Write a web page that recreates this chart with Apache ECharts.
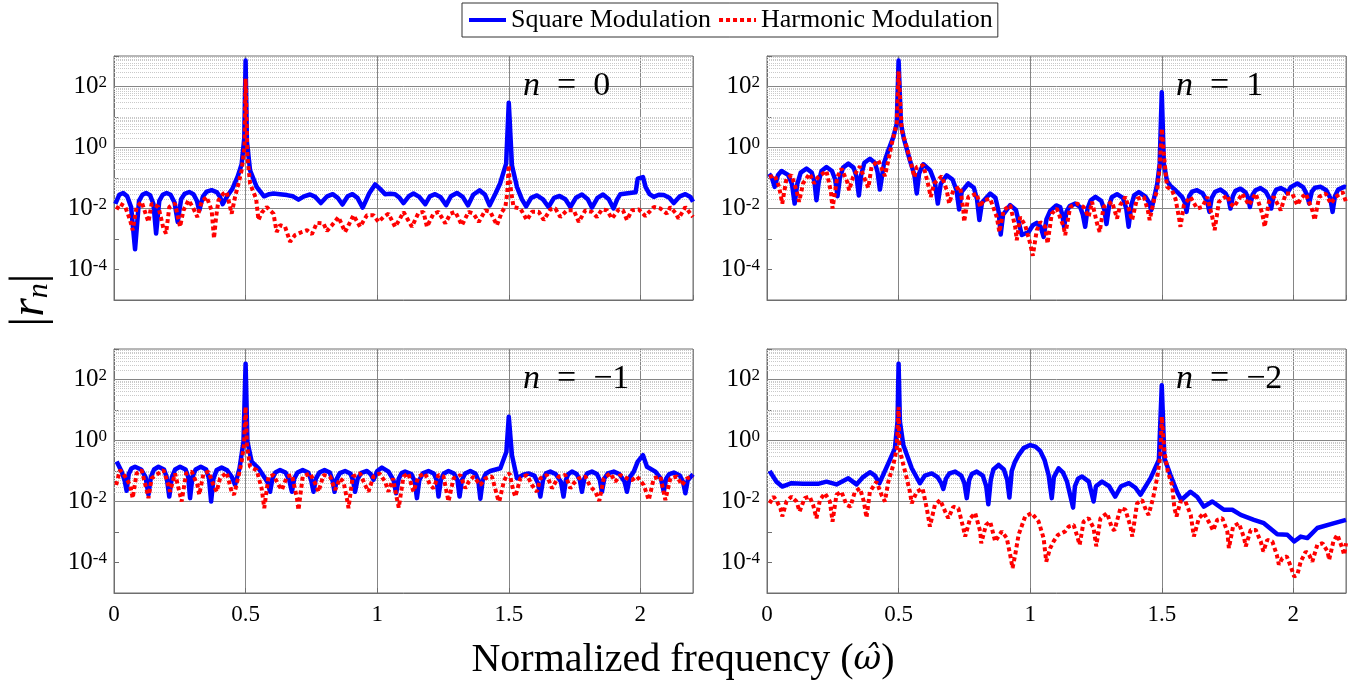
<!DOCTYPE html>
<html>
<head>
<meta charset="utf-8">
<script src="https://cdn.jsdelivr.net/npm/echarts@6.0.0/dist/echarts.min.js"></script>
<style>
  html, body { margin: 0; padding: 0; background: #fff; }
  #chart { width: 1365px; height: 685px; }
</style>
</head>
<body>
<div id="chart"></div>
<script>
// values: [normalized frequency, |r_n|]
const yTickExp = [-4, -2, 0, 2];
const yMajor = [1e-4, 1e-2, 1, 1e2];

// n = 0
const sq0 = [[0.005,0.0141],[0.02,0.0282],[0.035,0.0324],[0.05,0.0251],[0.065,0.0112],[0.08,0.00046],[0.095,0.0178],[0.108,0.0282],[0.122,0.0324],[0.137,0.0275],[0.15,0.0141],[0.16,0.00151],[0.172,0.0178],[0.185,0.0282],[0.2,0.0324],[0.215,0.0282],[0.23,0.0158],[0.242,0.00363],[0.255,0.02],[0.268,0.0302],[0.286,0.0347],[0.302,0.0295],[0.315,0.0178],[0.324,0.00871],[0.338,0.0251],[0.352,0.0355],[0.371,0.0398],[0.39,0.0347],[0.403,0.024],[0.413,0.0138],[0.43,0.0251],[0.45,0.0447],[0.47,0.112],[0.485,0.282],[0.495,2.0],[0.5,708],[0.505,1.58],[0.517,0.178],[0.542,0.0513],[0.57,0.0251],[0.59,0.0295],[0.606,0.0309],[0.63,0.0295],[0.657,0.0275],[0.68,0.0251],[0.701,0.0195],[0.722,0.0251],[0.745,0.0288],[0.765,0.024],[0.786,0.0151],[0.81,0.0251],[0.831,0.0295],[0.85,0.0224],[0.868,0.0135],[0.888,0.0251],[0.906,0.0295],[0.925,0.0224],[0.945,0.0107],[0.97,0.0316],[0.992,0.0617],[1.01,0.0447],[1.03,0.0295],[1.05,0.0302],[1.068,0.0295],[1.085,0.0224],[1.1,0.0151],[1.12,0.0251],[1.138,0.0309],[1.16,0.024],[1.183,0.0138],[1.2,0.0251],[1.22,0.0295],[1.24,0.024],[1.262,0.0129],[1.28,0.0251],[1.303,0.0324],[1.325,0.024],[1.345,0.0126],[1.365,0.0282],[1.389,0.0398],[1.41,0.0282],[1.427,0.0126],[1.45,0.0316],[1.467,0.0661],[1.49,0.295],[1.5,29.5],[1.512,0.263],[1.531,0.0513],[1.55,0.02],[1.566,0.0117],[1.585,0.0224],[1.607,0.0269],[1.63,0.02],[1.651,0.0112],[1.672,0.0224],[1.693,0.0257],[1.715,0.02],[1.734,0.0112],[1.755,0.0224],[1.778,0.0288],[1.8,0.02],[1.816,0.0107],[1.837,0.0224],[1.858,0.0288],[1.88,0.02],[1.898,0.01],[1.912,0.02],[1.924,0.0295],[1.96,0.0324],[1.982,0.0339],[1.99,0.0955],[2.01,0.107],[2.02,0.0501],[2.035,0.0295],[2.051,0.024],[2.07,0.0282],[2.089,0.0275],[2.11,0.0224],[2.127,0.0151],[2.15,0.0251],[2.171,0.0295],[2.19,0.024],[2.2,0.0166]];
const ha0 = [[0.01,0.00933],[0.023,0.0145],[0.042,0.0117],[0.061,0.00417],[0.071,0.00195],[0.086,0.0112],[0.105,0.0166],[0.122,0.00603],[0.131,0.00363],[0.143,0.0145],[0.169,0.0112],[0.188,0.00219],[0.198,0.00151],[0.21,0.0112],[0.232,0.0145],[0.251,0.00251],[0.264,0.00871],[0.283,0.0186],[0.299,0.0112],[0.317,0.00525],[0.333,0.0166],[0.352,0.024],[0.371,0.00871],[0.38,0.00105],[0.388,0.00525],[0.397,0.0186],[0.416,0.0309],[0.428,0.0347],[0.447,0.00676],[0.46,0.024],[0.473,0.0661],[0.485,0.178],[0.496,1.05],[0.5,178],[0.507,0.49],[0.517,0.0661],[0.527,0.0398],[0.54,0.0209],[0.549,0.00417],[0.561,0.00724],[0.58,0.0112],[0.606,0.00676],[0.618,0.0017],[0.631,0.00282],[0.65,0.00251],[0.669,0.000813],[0.688,0.00135],[0.714,0.0017],[0.733,0.00195],[0.752,0.00145],[0.771,0.00339],[0.796,0.00324],[0.809,0.00182],[0.828,0.00282],[0.853,0.00525],[0.878,0.0017],[0.891,0.00282],[0.91,0.00603],[0.935,0.00251],[0.961,0.00603],[0.986,0.00603],[1.005,0.00363],[1.024,0.00525],[1.043,0.00676],[1.068,0.00251],[1.087,0.00468],[1.1,0.00776],[1.132,0.00251],[1.157,0.00724],[1.176,0.00776],[1.189,0.00251],[1.214,0.00676],[1.233,0.00776],[1.259,0.00324],[1.278,0.00676],[1.297,0.00776],[1.322,0.00282],[1.347,0.00776],[1.366,0.00676],[1.386,0.00363],[1.411,0.00871],[1.43,0.00776],[1.455,0.00282],[1.474,0.00776],[1.487,0.0112],[1.494,0.0309],[1.5,0.263],[1.503,0.0832],[1.518,0.0112],[1.544,0.01],[1.569,0.00417],[1.588,0.00776],[1.614,0.00776],[1.633,0.00417],[1.658,0.00933],[1.677,0.01],[1.696,0.00525],[1.721,0.00871],[1.747,0.00871],[1.766,0.00363],[1.791,0.00871],[1.816,0.00776],[1.835,0.00525],[1.854,0.00933],[1.873,0.00871],[1.892,0.00468],[1.918,0.00933],[1.934,0.00871],[1.949,0.00417],[1.968,0.00871],[1.994,0.00933],[2.019,0.00562],[2.051,0.0112],[2.076,0.01],[2.101,0.00676],[2.114,0.0112],[2.133,0.00724],[2.145,0.00468],[2.171,0.0112],[2.2,0.00525]];

// n = 1
const sq1 = [[0.008,0.138],[0.018,0.105],[0.029,0.0513],[0.042,0.126],[0.055,0.17],[0.08,0.126],[0.095,0.0631],[0.105,0.0145],[0.115,0.0631],[0.128,0.151],[0.15,0.204],[0.17,0.151],[0.18,0.0794],[0.188,0.0186],[0.197,0.0794],[0.207,0.17],[0.226,0.229],[0.247,0.17],[0.259,0.0891],[0.268,0.0251],[0.277,0.1],[0.289,0.219],[0.309,0.295],[0.329,0.219],[0.34,0.112],[0.349,0.0269],[0.358,0.126],[0.37,0.316],[0.391,0.427],[0.41,0.316],[0.42,0.158],[0.429,0.0417],[0.445,0.316],[0.461,0.813],[0.48,2.19],[0.493,6.03],[0.5,708],[0.509,6.03],[0.52,1.95],[0.543,0.38],[0.56,0.126],[0.569,0.0309],[0.578,0.141],[0.594,0.282],[0.62,0.178],[0.638,0.0708],[0.649,0.0145],[0.66,0.0631],[0.683,0.123],[0.705,0.0891],[0.72,0.0398],[0.73,0.00933],[0.74,0.0355],[0.765,0.0661],[0.786,0.0479],[0.798,0.02],[0.807,0.00417],[0.817,0.0158],[0.848,0.0309],[0.868,0.0224],[0.88,0.00794],[0.888,0.00141],[0.897,0.00631],[0.924,0.0129],[0.946,0.00891],[0.968,0.00135],[0.994,0.0017],[1.01,0.00282],[1.025,0.00339],[1.04,0.00251],[1.051,0.00117],[1.062,0.00447],[1.076,0.00832],[1.099,0.0126],[1.114,0.0112],[1.122,0.00631],[1.129,0.00251],[1.138,0.00794],[1.15,0.012],[1.171,0.0145],[1.19,0.0112],[1.2,0.00631],[1.209,0.00251],[1.218,0.01],[1.23,0.0186],[1.248,0.024],[1.27,0.0178],[1.282,0.00891],[1.29,0.00309],[1.3,0.0126],[1.31,0.0234],[1.33,0.0295],[1.352,0.0224],[1.365,0.01],[1.374,0.00251],[1.384,0.0126],[1.395,0.0269],[1.413,0.0347],[1.437,0.0251],[1.452,0.0158],[1.46,0.00871],[1.475,0.0316],[1.483,0.0661],[1.492,0.295],[1.5,64.6],[1.508,0.295],[1.52,0.0794],[1.532,0.0562],[1.552,0.0398],[1.577,0.024],[1.588,0.0158],[1.594,0.00776],[1.604,0.0251],[1.615,0.0355],[1.634,0.0398],[1.655,0.0316],[1.672,0.0178],[1.681,0.00776],[1.69,0.0224],[1.703,0.0355],[1.723,0.0417],[1.742,0.0316],[1.754,0.02],[1.761,0.01],[1.77,0.0251],[1.78,0.038],[1.799,0.0447],[1.818,0.0339],[1.828,0.0224],[1.835,0.0112],[1.845,0.0282],[1.856,0.0398],[1.875,0.0468],[1.895,0.0355],[1.908,0.0224],[1.916,0.01],[1.925,0.0282],[1.935,0.0417],[1.952,0.0468],[1.968,0.0398],[1.977,0.0316],[1.99,0.0501],[2.015,0.0661],[2.037,0.0501],[2.052,0.0282],[2.06,0.0145],[2.07,0.0355],[2.082,0.0479],[2.104,0.0513],[2.125,0.0398],[2.14,0.0224],[2.149,0.00776],[2.158,0.0251],[2.17,0.0417],[2.193,0.0513],[2.2,0.0501]];
const ha1 = [[0.008,0.107],[0.029,0.123],[0.046,0.0513],[0.058,0.0145],[0.074,0.0955],[0.093,0.123],[0.112,0.0398],[0.122,0.0166],[0.137,0.0661],[0.162,0.138],[0.179,0.0661],[0.194,0.107],[0.226,0.17],[0.243,0.0347],[0.249,0.01],[0.267,0.107],[0.283,0.204],[0.305,0.0741],[0.312,0.0398],[0.327,0.107],[0.353,0.24],[0.376,0.0741],[0.385,0.0479],[0.397,0.229],[0.423,0.38],[0.448,0.115],[0.461,0.38],[0.477,1.7],[0.493,6.03],[0.5,316],[0.512,3.63],[0.531,1.05],[0.549,0.263],[0.56,0.107],[0.569,0.229],[0.594,0.263],[0.613,0.0575],[0.622,0.024],[0.635,0.0661],[0.664,0.115],[0.683,0.0398],[0.692,0.0145],[0.708,0.0398],[0.734,0.0513],[0.746,0.00871],[0.749,0.00363],[0.765,0.024],[0.797,0.0309],[0.81,0.0112],[0.822,0.0186],[0.848,0.0209],[0.873,0.00525],[0.883,0.0017],[0.899,0.00871],[0.924,0.0129],[0.943,0.00251],[0.949,0.000912],[0.962,0.00525],[0.981,0.00282],[1.0,0.000708],[1.01,0.000282],[1.025,0.00195],[1.038,0.00363],[1.057,0.00251],[1.066,0.000708],[1.082,0.00676],[1.101,0.01],[1.127,0.00251],[1.133,0.00135],[1.152,0.0112],[1.178,0.0145],[1.203,0.0112],[1.222,0.00525],[1.235,0.0166],[1.254,0.00324],[1.264,0.0017],[1.279,0.0112],[1.311,0.0166],[1.33,0.00468],[1.342,0.0129],[1.362,0.024],[1.387,0.00417],[1.406,0.0209],[1.432,0.024],[1.447,0.00871],[1.454,0.00417],[1.47,0.0186],[1.483,0.0398],[1.492,0.229],[1.5,4.17],[1.51,0.38],[1.52,0.0513],[1.539,0.0398],[1.552,0.0209],[1.565,0.00525],[1.571,0.00251],[1.584,0.0129],[1.609,0.024],[1.634,0.01],[1.654,0.0112],[1.673,0.024],[1.692,0.00525],[1.701,0.00195],[1.717,0.0166],[1.749,0.0269],[1.761,0.0145],[1.774,0.0112],[1.806,0.0309],[1.831,0.0129],[1.857,0.0309],[1.882,0.00676],[1.891,0.00251],[1.907,0.0166],[1.926,0.024],[1.952,0.00871],[1.971,0.0309],[1.996,0.0309],[2.015,0.0129],[2.028,0.0209],[2.047,0.0309],[2.072,0.00871],[2.081,0.00417],[2.098,0.024],[2.123,0.0309],[2.142,0.0145],[2.161,0.024],[2.187,0.0347],[2.2,0.0166]];

// n = -1
const sqM1 = [[0.01,0.204],[0.029,0.0955],[0.04,0.0501],[0.048,0.0224],[0.056,0.0794],[0.066,0.12],[0.08,0.138],[0.103,0.112],[0.12,0.0631],[0.131,0.0166],[0.14,0.0631],[0.152,0.112],[0.169,0.138],[0.19,0.112],[0.2,0.0631],[0.21,0.0145],[0.22,0.0631],[0.232,0.112],[0.251,0.138],[0.272,0.112],[0.282,0.0631],[0.289,0.0129],[0.298,0.0631],[0.31,0.112],[0.33,0.138],[0.35,0.112],[0.361,0.0562],[0.369,0.01],[0.378,0.0562],[0.39,0.107],[0.409,0.129],[0.43,0.105],[0.448,0.0631],[0.46,0.0347],[0.477,0.123],[0.492,0.912],[0.5,331],[0.507,0.912],[0.523,0.204],[0.549,0.123],[0.574,0.0575],[0.585,0.0398],[0.593,0.0209],[0.602,0.0562],[0.613,0.0891],[0.631,0.107],[0.652,0.0891],[0.666,0.0501],[0.676,0.0209],[0.685,0.0562],[0.697,0.0891],[0.717,0.107],[0.738,0.0891],[0.749,0.0501],[0.758,0.0209],[0.767,0.0562],[0.78,0.0891],[0.8,0.107],[0.82,0.0891],[0.83,0.0501],[0.838,0.0209],[0.847,0.0562],[0.858,0.0851],[0.878,0.1],[0.898,0.0832],[0.908,0.0501],[0.916,0.0209],[0.926,0.0562],[0.94,0.0871],[0.961,0.1],[0.975,0.0794],[0.986,0.0513],[1.0,0.1],[1.018,0.129],[1.043,0.0955],[1.062,0.0501],[1.072,0.0186],[1.082,0.0562],[1.093,0.0851],[1.106,0.0955],[1.13,0.0794],[1.143,0.0447],[1.151,0.0129],[1.16,0.0501],[1.173,0.0832],[1.195,0.1],[1.215,0.0832],[1.226,0.0501],[1.233,0.0145],[1.242,0.0501],[1.253,0.0832],[1.271,0.1],[1.292,0.0832],[1.305,0.0501],[1.313,0.0145],[1.322,0.0501],[1.334,0.0832],[1.354,0.1],[1.373,0.0832],[1.384,0.0501],[1.392,0.0123],[1.401,0.0501],[1.413,0.0832],[1.43,0.1],[1.468,0.123],[1.491,0.427],[1.5,6.03],[1.512,0.331],[1.531,0.0575],[1.538,0.0513],[1.555,0.0759],[1.575,0.0832],[1.597,0.0708],[1.611,0.0398],[1.62,0.0145],[1.63,0.0501],[1.641,0.0832],[1.658,0.0955],[1.678,0.0794],[1.698,0.0447],[1.708,0.0145],[1.717,0.0501],[1.726,0.0794],[1.74,0.0955],[1.758,0.0794],[1.77,0.0501],[1.778,0.0209],[1.787,0.0562],[1.798,0.0832],[1.816,0.0955],[1.835,0.0794],[1.846,0.0501],[1.854,0.0209],[1.863,0.0562],[1.876,0.0832],[1.899,0.0955],[1.92,0.0794],[1.94,0.0447],[1.949,0.0209],[1.96,0.0631],[1.975,0.0955],[1.99,0.204],[2.01,0.331],[2.025,0.138],[2.057,0.0955],[2.078,0.0562],[2.089,0.0209],[2.098,0.0562],[2.11,0.0794],[2.127,0.0891],[2.15,0.0708],[2.162,0.0447],[2.171,0.0186],[2.18,0.0501],[2.2,0.0776]];
const haM1 = [[0.008,0.0347],[0.023,0.107],[0.042,0.0661],[0.061,0.0347],[0.071,0.0129],[0.086,0.0832],[0.105,0.107],[0.124,0.024],[0.131,0.0129],[0.143,0.0575],[0.169,0.0832],[0.188,0.107],[0.207,0.0347],[0.213,0.0209],[0.232,0.0832],[0.257,0.01],[0.274,0.0832],[0.295,0.0955],[0.317,0.0347],[0.324,0.0166],[0.34,0.0832],[0.359,0.0955],[0.378,0.0347],[0.39,0.0209],[0.403,0.0575],[0.428,0.0891],[0.447,0.0209],[0.456,0.0166],[0.473,0.0661],[0.485,0.204],[0.494,0.708],[0.5,12.6],[0.505,0.708],[0.517,0.138],[0.542,0.107],[0.561,0.0269],[0.571,0.00603],[0.587,0.0661],[0.606,0.0741],[0.625,0.0347],[0.638,0.024],[0.657,0.0661],[0.676,0.0741],[0.695,0.0129],[0.701,0.00525],[0.717,0.0661],[0.745,0.0832],[0.764,0.0398],[0.777,0.0209],[0.796,0.0741],[0.821,0.0661],[0.84,0.024],[0.859,0.0575],[0.872,0.0447],[0.887,0.01],[0.891,0.00603],[0.907,0.0661],[0.935,0.0832],[0.954,0.0347],[0.967,0.0209],[0.986,0.0661],[1.009,0.0832],[1.03,0.0447],[1.043,0.0209],[1.06,0.0575],[1.077,0.01],[1.082,0.00631],[1.1,0.0661],[1.119,0.0832],[1.13,0.0347],[1.138,0.0209],[1.157,0.0661],[1.182,0.0832],[1.201,0.0347],[1.214,0.0269],[1.233,0.0741],[1.252,0.0661],[1.271,0.01],[1.29,0.0575],[1.316,0.0741],[1.335,0.0269],[1.348,0.0447],[1.366,0.0661],[1.392,0.0347],[1.411,0.0575],[1.436,0.0661],[1.458,0.0129],[1.464,0.01],[1.481,0.0447],[1.493,0.0741],[1.503,0.0832],[1.518,0.0209],[1.525,0.0145],[1.544,0.0575],[1.569,0.0741],[1.588,0.0347],[1.607,0.0209],[1.62,0.0575],[1.645,0.0741],[1.664,0.0269],[1.69,0.0661],[1.715,0.0741],[1.734,0.0269],[1.747,0.0398],[1.766,0.0575],[1.791,0.0661],[1.81,0.0309],[1.829,0.0209],[1.844,0.0105],[1.861,0.0575],[1.886,0.0832],[1.905,0.0447],[1.924,0.0741],[1.949,0.0575],[1.968,0.0501],[1.987,0.0661],[2.013,0.0347],[2.032,0.0112],[2.051,0.0575],[2.076,0.0661],[2.095,0.0112],[2.114,0.0575],[2.139,0.0661],[2.158,0.0347],[2.177,0.0575],[2.2,0.0661]];

// n = -2
const sqM2 = [[0.01,0.1],[0.036,0.0447],[0.058,0.0309],[0.093,0.0398],[0.137,0.038],[0.194,0.038],[0.226,0.0447],[0.264,0.0363],[0.309,0.0575],[0.34,0.0363],[0.365,0.0631],[0.391,0.0912],[0.41,0.0708],[0.427,0.0398],[0.461,0.178],[0.486,0.55],[0.496,4.17],[0.5,331],[0.505,4.17],[0.518,0.708],[0.55,0.123],[0.581,0.0398],[0.6,0.0708],[0.626,0.0832],[0.648,0.0631],[0.662,0.0398],[0.67,0.0257],[0.68,0.0562],[0.693,0.0832],[0.715,0.0955],[0.738,0.0708],[0.75,0.0398],[0.759,0.0129],[0.768,0.0501],[0.778,0.0794],[0.797,0.0955],[0.82,0.0708],[0.833,0.0316],[0.841,0.00813],[0.85,0.0501],[0.86,0.112],[0.88,0.158],[0.9,0.112],[0.913,0.0501],[0.921,0.0135],[0.93,0.1],[0.942,0.2],[0.956,0.331],[0.975,0.562],[1.0,0.708],[1.02,0.631],[1.038,0.457],[1.055,0.224],[1.07,0.0741],[1.082,0.0129],[1.09,0.0631],[1.108,0.123],[1.125,0.0891],[1.14,0.0447],[1.163,0.00631],[1.17,0.0316],[1.182,0.0562],[1.197,0.0661],[1.223,0.0447],[1.241,0.01],[1.25,0.0316],[1.273,0.0447],[1.3,0.0316],[1.323,0.0145],[1.345,0.0316],[1.375,0.0398],[1.4,0.0282],[1.419,0.0166],[1.457,0.0575],[1.489,0.229],[1.5,64.6],[1.51,0.263],[1.533,0.0741],[1.558,0.0209],[1.574,0.0112],[1.609,0.0209],[1.635,0.0141],[1.66,0.00676],[1.692,0.01],[1.736,0.00537],[1.768,0.00537],[1.8,0.00363],[1.85,0.00251],[1.888,0.00195],[1.939,0.000851],[1.977,0.000813],[2.003,0.00049],[2.028,0.000708],[2.053,0.000631],[2.091,0.00135],[2.142,0.00182],[2.2,0.00251]];
const haM2 = [[0.01,0.00871],[0.025,0.0145],[0.038,0.01],[0.051,0.00603],[0.058,0.00324],[0.074,0.01],[0.093,0.0145],[0.112,0.01],[0.124,0.00468],[0.143,0.0129],[0.162,0.0145],[0.175,0.00776],[0.188,0.00282],[0.201,0.0112],[0.22,0.0186],[0.239,0.01],[0.249,0.00219],[0.264,0.0166],[0.283,0.0209],[0.302,0.00776],[0.317,0.00676],[0.334,0.0209],[0.353,0.0269],[0.368,0.01],[0.378,0.00295],[0.391,0.0209],[0.416,0.0447],[0.435,0.0166],[0.448,0.01],[0.461,0.0447],[0.48,0.158],[0.493,0.55],[0.5,12.6],[0.503,0.55],[0.515,0.204],[0.531,0.0575],[0.543,0.0209],[0.55,0.00871],[0.569,0.0209],[0.591,0.0269],[0.607,0.00603],[0.619,0.00151],[0.638,0.00776],[0.658,0.0112],[0.677,0.00468],[0.689,0.00282],[0.708,0.00676],[0.727,0.00603],[0.746,0.00135],[0.753,0.000708],[0.772,0.00282],[0.791,0.00417],[0.81,0.00105],[0.814,0.000427],[0.832,0.0017],[0.848,0.00219],[0.867,0.00049],[0.879,0.000708],[0.892,0.00105],[0.911,0.000631],[0.924,0.000178],[0.933,0.0000661],[0.943,0.000178],[0.956,0.000813],[0.981,0.00324],[1.006,0.00417],[1.032,0.00219],[1.051,0.000631],[1.061,0.000107],[1.076,0.000295],[1.089,0.00049],[1.105,0.000794],[1.133,0.00105],[1.146,0.00151],[1.165,0.0017],[1.177,0.000813],[1.188,0.00038],[1.203,0.00219],[1.222,0.00282],[1.241,0.00135],[1.251,0.000339],[1.267,0.00282],[1.292,0.00417],[1.311,0.00135],[1.32,0.00112],[1.343,0.00603],[1.362,0.00537],[1.381,0.00151],[1.388,0.000708],[1.406,0.00871],[1.425,0.0112],[1.442,0.00468],[1.45,0.00363],[1.467,0.0129],[1.482,0.0575],[1.495,0.331],[1.5,6.03],[1.51,0.427],[1.523,0.0955],[1.539,0.0347],[1.548,0.00603],[1.556,0.00324],[1.571,0.01],[1.59,0.01],[1.61,0.00363],[1.622,0.000708],[1.641,0.00282],[1.66,0.00417],[1.685,0.0017],[1.695,0.00112],[1.711,0.00251],[1.73,0.00282],[1.749,0.00105],[1.755,0.000295],[1.771,0.00151],[1.793,0.00195],[1.813,0.000631],[1.819,0.000339],[1.838,0.00117],[1.857,0.00117],[1.876,0.00049],[1.886,0.000229],[1.901,0.00055],[1.92,0.00049],[1.937,0.000178],[1.945,0.0000851],[1.958,0.000138],[1.975,0.000158],[1.99,0.0000741],[2.003,0.0000347],[2.015,0.0000398],[2.028,0.000107],[2.047,0.000229],[2.06,0.000178],[2.072,0.000107],[2.091,0.00038],[2.111,0.000427],[2.13,0.000229],[2.136,0.000123],[2.152,0.00049],[2.167,0.000813],[2.186,0.000295],[2.193,0.000178],[2.2,0.000427]];

const panels = [
  { sq: sq0, ha: ha0, label: '0', left: 114, top: 56, showX: false },
  { sq: sq1, ha: ha1, label: '1', left: 767, top: 56, showX: false },
  { sq: sqM1, ha: haM1, label: '\u22121', left: 114, top: 349, showX: true },
  { sq: sqM2, ha: haM2, label: '\u22122', left: 767, top: 349, showX: true }
];

const SERIF = 'Liberation Serif, Times New Roman, serif';

// minor grid (2..9 per decade, plus odd decades), major grid every two decades
const minorVals = [];
for (let e = -5; e <= 2; e++) {
  for (let k = 1; k <= 9; k++) {
    const v = k * Math.pow(10, e);
    if (k === 1 && (e === -5 || yTickExp.indexOf(e) >= 0)) continue;
    minorVals.push(v);
  }
}

function yLabel(v) {
  const e = Math.round(Math.log10(v));
  return yTickExp.indexOf(e) >= 0 ? '{b|10}{s|' + e + '}' : '';
}

const grids = [], xAxes = [], yAxes = [], series = [], graphics = [];
panels.forEach(function (p, i) {
  grids.push({ left: p.left, top: p.top, width: 579, height: 244, show: true,
    borderColor: '#6e6e6e', borderWidth: 1, containLabel: false });
  xAxes.push({
    type: 'value', gridIndex: i, min: 0, max: 2.2, interval: 0.5,
    axisLine: { show: true, onZero: false, lineStyle: { color: '#6e6e6e' } },
    axisTick: { show: true, inside: true, length: 5, lineStyle: { color: '#6e6e6e' } },
    splitLine: { show: true, lineStyle: { color: '#858585', width: 1 } },
    axisLabel: { show: p.showX, showMaxLabel: false, margin: 10, color: '#000',
      fontFamily: SERIF, fontSize: 23 }
  });
  yAxes.push({
    type: 'log', logBase: 10, gridIndex: i, min: 1e-5, max: 1e3,
    axisLine: { show: true, lineStyle: { color: '#6e6e6e' } },
    axisTick: { show: true, inside: true, length: 5, lineStyle: { color: '#6e6e6e' } },
    splitLine: { show: false },
    axisLabel: {
      margin: 7, formatter: yLabel, color: '#000',
      rich: {
        b: { fontFamily: SERIF, fontSize: 25, color: '#000', lineHeight: 25, verticalAlign: 'bottom' },
        s: { fontFamily: SERIF, fontSize: 17, color: '#000', lineHeight: 17, verticalAlign: 'top', padding: [0, 0, 17, 0] }
      }
    }
  });
  // light log grid under the curves
  series.push({
    type: 'line', xAxisIndex: i, yAxisIndex: i, data: [], silent: true, z: 1,
    markLine: {
      silent: true, symbol: ['none', 'none'], animation: false, z: 1,
      label: { show: false }, emphasis: { disabled: true },
      data: minorVals.map(function (v) {
        return { yAxis: v, lineStyle: { color: '#c9c9c9', width: 1, type: [1, 1] } };
      }).concat(yMajor.map(function (v) {
        return { yAxis: v, lineStyle: { color: '#858585', width: 1, type: 'solid' } };
      }))
    }
  });
  series.push({
    name: 'Square Modulation', type: 'line', xAxisIndex: i, yAxisIndex: i,
    data: p.sq, symbol: 'none', showSymbol: false, z: 3,
    lineStyle: { color: '#0000ff', width: 4.5, join: 'round' }, itemStyle: { color: '#0000ff' }
  });
  series.push({
    name: 'Harmonic Modulation', type: 'line', xAxisIndex: i, yAxisIndex: i,
    data: p.ha, symbol: 'none', showSymbol: false, z: 4,
    lineStyle: { color: '#ff0000', width: 4, type: [4, 3], cap: 'butt' }, itemStyle: { color: '#ff0000' }
  });
  graphics.push({
    type: 'text', x: p.left + 409, y: p.top + 30, z: 10,
    style: {
      text: '{i|n}\u2002=\u2002' + p.label,
      fontFamily: SERIF, fontSize: 34, fill: '#000', verticalAlign: 'middle', align: 'left',
      rich: { i: { fontFamily: SERIF, fontSize: 34, fontStyle: 'italic', fill: '#000' } }
    }
  });
});

graphics.push({
  type: 'text', x: 683, y: 660, z: 10,
  style: {
    text: 'Normalized frequency ({w|\u03c9\u0302})', fontFamily: SERIF, fontSize: 40,
    fill: '#000', align: 'center', verticalAlign: 'middle',
    rich: { w: { fontFamily: 'DejaVu Serif', fontStyle: 'italic', fontSize: 34, fill: '#000' } }
  }
});
graphics.push({
  type: 'text', x: 30, y: 300, rotation: Math.PI / 2, z: 10,
  style: {
    text: '{a||}{r|r}{n|n}{a||}', align: 'center', verticalAlign: 'middle',
    rich: {
      a: { fontFamily: SERIF, fontSize: 48, fill: '#000', lineHeight: 48 },
      r: { fontFamily: SERIF, fontSize: 48, fontStyle: 'italic', fill: '#000', lineHeight: 48 },
      n: { fontFamily: SERIF, fontSize: 30, fontStyle: 'italic', fill: '#000', lineHeight: 30,
           verticalAlign: 'bottom', padding: [22, 0, 0, 0] }
    }
  }
});

const chart = echarts.init(document.getElementById('chart'), null, { renderer: 'canvas' });
chart.setOption({
  backgroundColor: '#ffffff',
  animation: false,
  textStyle: { fontFamily: SERIF },
  legend: {
    data: ['Square Modulation', 'Harmonic Modulation'],
    left: 462, top: 3, orient: 'horizontal',
    padding: [4, 5, 4, 5], itemGap: 6, itemWidth: 37, itemHeight: 12,
    itemStyle: { opacity: 0 },
    lineStyle: { width: 4 },
    borderColor: '#333', borderWidth: 1, backgroundColor: '#fff',
    textStyle: { fontFamily: SERIF, fontSize: 26, color: '#000' }
  },
  grid: grids,
  xAxis: xAxes,
  yAxis: yAxes,
  series: series,
  graphic: graphics
});
</script>
</body>
</html>
